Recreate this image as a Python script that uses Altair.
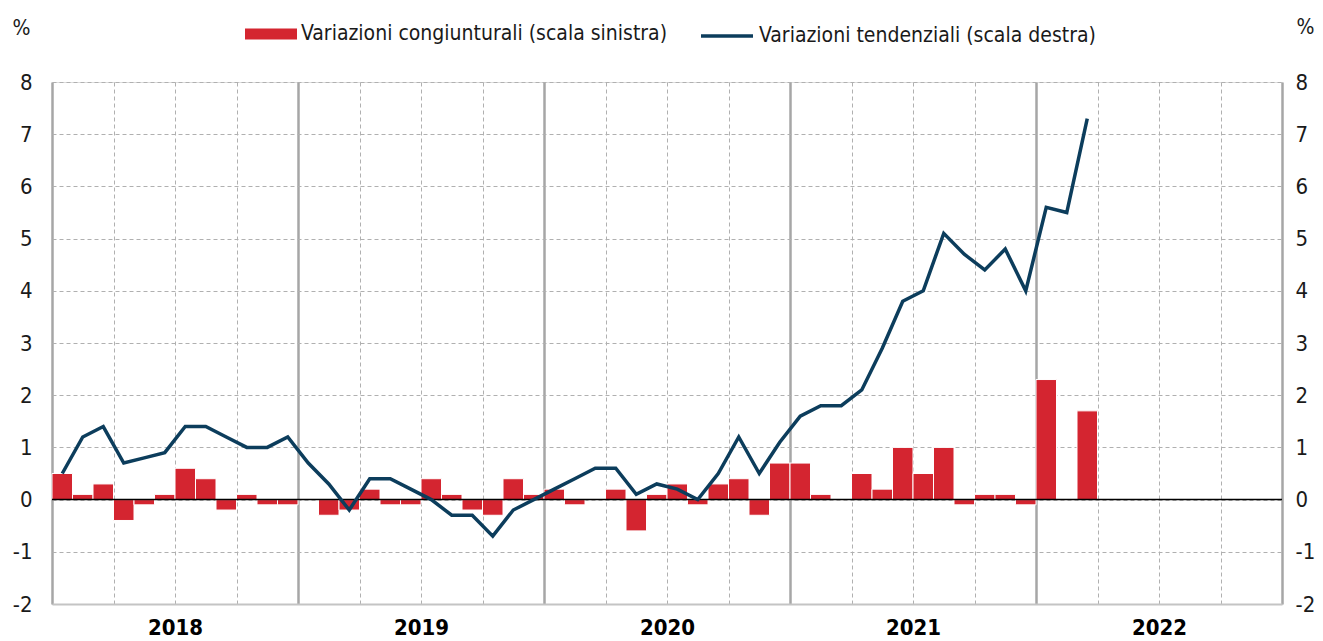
import altair as alt
import pandas as pd

years = [2018, 2019, 2020, 2021, 2022]

# Variazioni congiunturali (monthly, %), Jan 2018 - Mar 2022
cong = [0.5, 0.1, 0.3, -0.4, -0.1, 0.1, 0.6, 0.4, -0.2, 0.1, -0.1, -0.1,
        0.0, -0.3, -0.2, 0.2, -0.1, -0.1, 0.4, 0.1, -0.2, -0.3, 0.4, 0.1,
        0.2, -0.1, 0.0, 0.2, -0.6, 0.1, 0.3, -0.1, 0.3, 0.4, -0.3, 0.7,
        0.7, 0.1, 0.0, 0.5, 0.2, 1.0, 0.5, 1.0, -0.1, 0.1, 0.1, -0.1,
        2.3, 0.0, 1.7]

# Variazioni tendenziali (yoy, %), Jan 2018 - Mar 2022
tend = [0.5, 1.2, 1.4, 0.7, 0.8, 0.9, 1.4, 1.4, 1.2, 1.0, 1.0, 1.2,
        0.7, 0.3, -0.2, 0.4, 0.4, 0.2, 0.0, -0.3, -0.3, -0.7, -0.2, 0.0,
        0.2, 0.4, 0.6, 0.6, 0.1, 0.3, 0.2, 0.0, 0.5, 1.2, 0.5, 1.1,
        1.6, 1.8, 1.8, 2.1, 2.9, 3.8, 4.0, 5.1, 4.7, 4.4, 4.8, 4.0,
        5.6, 5.5, 7.3]

label_c = "Variazioni congiunturali (scala sinistra)"
label_t = "Variazioni tendenziali (scala destra)"

n = len(cong)
df = pd.DataFrame({
    "m0": [i for i in range(n)],
    "m1": [i + 1 for i in range(n)],
    "mc": [i + 0.5 for i in range(n)],
    "cong": cong,
    "tend": tend,
    "sc": [label_c] * n,
    "st": [label_t] * n,
})

FONT = "'Liberation Sans Narrow', 'Arial Narrow', 'DejaVu Sans Condensed', sans-serif"
RED = "#d42530"
NAVY = "#0c3d5c"
TXT = "#1a1a1a"

n_months = 12 * len(years)
is_year = "datum.value % 12 === 0"

xscale = alt.Scale(domain=[0, n_months], nice=False, zero=False)
xaxis = alt.Axis(
    values=list(range(0, n_months + 1, 3)), title=None, ticks=False,
    domain=True, domainColor="#c4c4c4", domainWidth=2,
    grid=True,
    gridDash={"condition": {"test": is_year, "value": []}, "value": [4, 3]},
    gridColor={"condition": {"test": is_year, "value": "#a6a6a6"}, "value": "#b0b0b0"},
    gridWidth={"condition": {"test": is_year, "value": 2.5}, "value": 1},
    labelExpr=f"datum.value % 12 === 6 ? '' + {years}[floor(datum.value / 12)] : ''",
    labelFont=FONT, labelFontSize=22, labelFontWeight="bold", labelColor="#000",
    labelPadding=13, labelOverlap=False, labelFlush=False, labelBound=False,
)

yscale = alt.Scale(domain=[-2, 8], nice=False, zero=False)
yvals = list(range(-2, 9))
yleft = alt.Axis(
    values=yvals, title="%", titleAngle=0, titleX=-31, titleY=-54,
    titleAlign="center", titleBaseline="middle", titleFont=FONT,
    titleFontSize=21, titleFontWeight="normal", titleColor=TXT,
    ticks=False, domain=False, grid=True, gridDash=[4, 3], gridColor="#b0b0b0",
    gridWidth=1, labelPadding=20, labelFont=FONT, labelFontSize=22, labelColor=TXT,
    labelExpr="'' + datum.value",
)
yright = alt.Axis(
    values=yvals, orient="right", title="%", titleAngle=0, titleX=23, titleY=-55,
    titleAlign="center", titleBaseline="middle", titleFont=FONT,
    titleFontSize=21, titleFontWeight="normal", titleColor=TXT,
    ticks=False, domain=False, grid=False, labelPadding=13,
    labelFont=FONT, labelFontSize=22, labelColor=TXT,
    labelExpr="'' + datum.value",
)

bars = alt.Chart(df).mark_bar(stroke="white", strokeWidth=1).encode(
    x=alt.X("m0:Q", scale=xscale, axis=xaxis),
    x2="m1:Q",
    y=alt.Y("cong:Q", scale=yscale, axis=yleft),
    y2=alt.datum(0),
    fill=alt.Fill("sc:N", scale=alt.Scale(domain=[label_c], range=[RED]),
                  legend=alt.Legend(
                      title=None, orient="none", legendX=193, legendY=-74,
                      symbolType="M-1,-0.21L1,-0.21L1,0.21L-1,0.21Z",
                      symbolSize=2704, symbolStrokeWidth=0, symbolOpacity=1,
                      labelFont=FONT, labelFontSize=21, labelColor=TXT,
                      labelLimit=800, labelOffset=4, padding=0)),
)

zero = alt.Chart(pd.DataFrame({"z": [0]})).mark_rule(color="#000", strokeWidth=1.5).encode(
    y=alt.Y("z:Q", scale=yscale, axis=yleft)
)

line = alt.Chart(df).mark_line(strokeWidth=3.5, strokeJoin="miter").encode(
    x=alt.X("mc:Q", scale=xscale, axis=xaxis),
    y=alt.Y("tend:Q", scale=yscale, axis=yright),
    stroke=alt.Stroke("st:N", scale=alt.Scale(domain=[label_t], range=[NAVY]),
                      legend=alt.Legend(
                          title=None, orient="none", legendX=647, legendY=-74,
                          symbolType="M-1,0L1,0", symbolSize=2704,
                          symbolStrokeWidth=3.5, symbolOpacity=1,
                          labelFont=FONT, labelFontSize=21, labelColor=TXT,
                          labelLimit=800, labelOffset=4, padding=0)),
)

chart = alt.layer(alt.layer(bars, zero), line).resolve_scale(
    y="independent"
).properties(
    width=1230, height=522,
    autosize=alt.AutoSizeParams(type="none"),
    padding={"left": 44, "top": 74, "right": 33, "bottom": 40},
).configure_view(stroke=None).configure(background="white")

chart.save("out.html", embed_options={"renderer": "svg", "actions": False})
